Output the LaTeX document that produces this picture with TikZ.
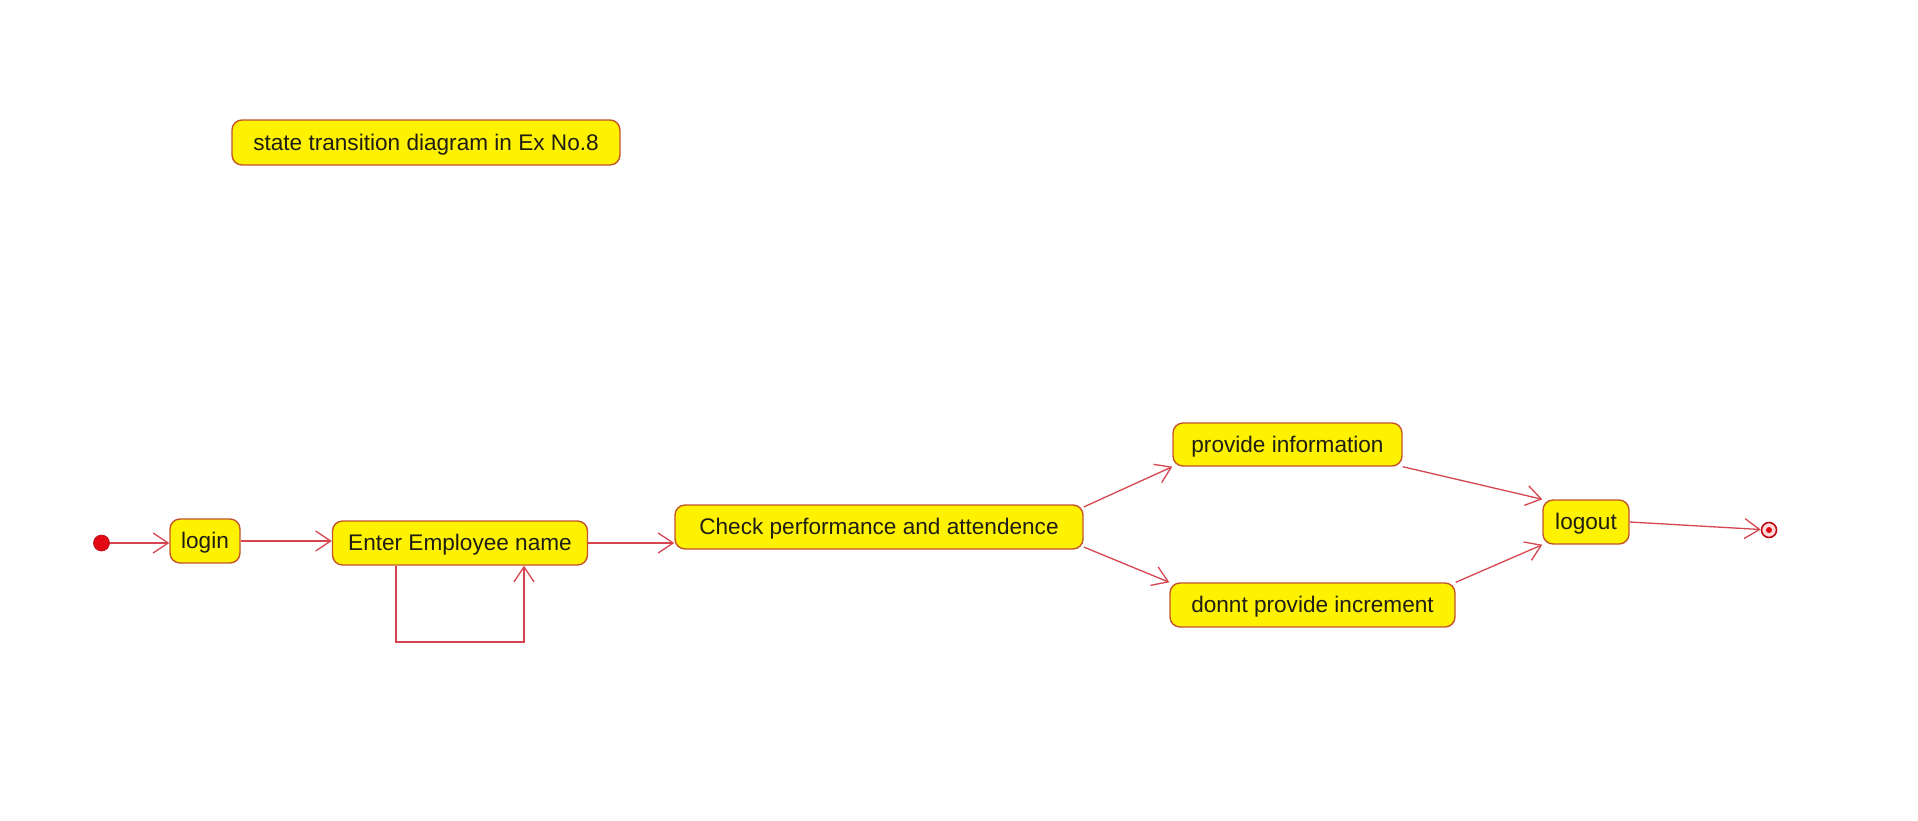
\documentclass[tikz,border=0pt]{standalone}
\usepackage{fontspec}
\setmainfont{Liberation Sans}
\usetikzlibrary{arrows.meta}
\definecolor{boxborder}{RGB}{195,85,45}
\definecolor{lineclr}{RGB}{215,70,80}
\definecolor{dotred}{RGB}{225,10,20}
\definecolor{txt}{RGB}{30,30,20}
\tikzset{
  statebox/.style={draw=boxborder, fill=yellow, line width=1.4pt, rounded corners=10pt,
    inner sep=0pt, minimum height=44pt, text=txt, font=\fontsize{22.6}{26}\selectfont,
    text depth=1pt},
  trans/.style={draw=lineclr, line width=1.3pt, -{Straight Barb[length=15pt,width=20pt,line width=1.3pt]}}
}
\begin{document}
\begin{tikzpicture}[x=1pt,y=-1pt]
\useasboundingbox (0,0) rectangle (1918,820);
\fill[white] (0,0) rectangle (1918,820);
\node[statebox, minimum width=388pt, minimum height=45pt] (title) at (426,142.5) {state transition diagram in Ex No.8};
\node[circle, fill=dotred, draw=dotred!80!black, line width=0.6pt, minimum size=16pt, inner sep=0pt] (init) at (101.5,543) {};
\node[statebox, minimum width=70pt] (login) at (205,541) {login};
\node[statebox, minimum width=255pt] (enter) at (460,543) {Enter Employee name};
\node[statebox, minimum width=408pt] (check) at (879,527) {Check performance and attendence};
\node[statebox, minimum width=229pt, minimum height=43pt] (info) at (1287.5,444.5) {provide information};
\node[statebox, minimum width=285pt] (incr) at (1312.5,605) {donnt provide increment};
\node[statebox, minimum width=86pt] (logout) at (1586,522) {logout};
\node[circle, draw=dotred!85!black, fill=white!85!red, line width=1.6pt, minimum size=15pt, inner sep=0pt] (final) at (1769,530) {};
\node[circle, fill=dotred, minimum size=6pt, inner sep=0pt] (finaldot) at (final.center) {};
\coordinate (loopa) at (396,642);
\coordinate (loopb) at (524,642);
\draw[trans] (init) -- (login.west |- init);
\draw[trans] (login) -- (enter.west |- login.east);
\draw[trans] (enter.east) -- (check.west |- enter.east);
\draw[trans] (enter.south -| loopa) -- (loopa) -- (loopb) -- (enter.south -| loopb);
\draw[trans] (check.east) ++(0,-20) coordinate (c1) (c1) -- (info.south west);
\draw[trans] (check.east) ++(0,20) coordinate (c2) (c2) -- (incr.north west);
\draw[trans] (info.south east) -- (logout.north west);
\draw[trans] (incr.north east) -- (logout.south west);
\draw[trans] (logout.east) -- (final);
\end{tikzpicture}
\end{document}
